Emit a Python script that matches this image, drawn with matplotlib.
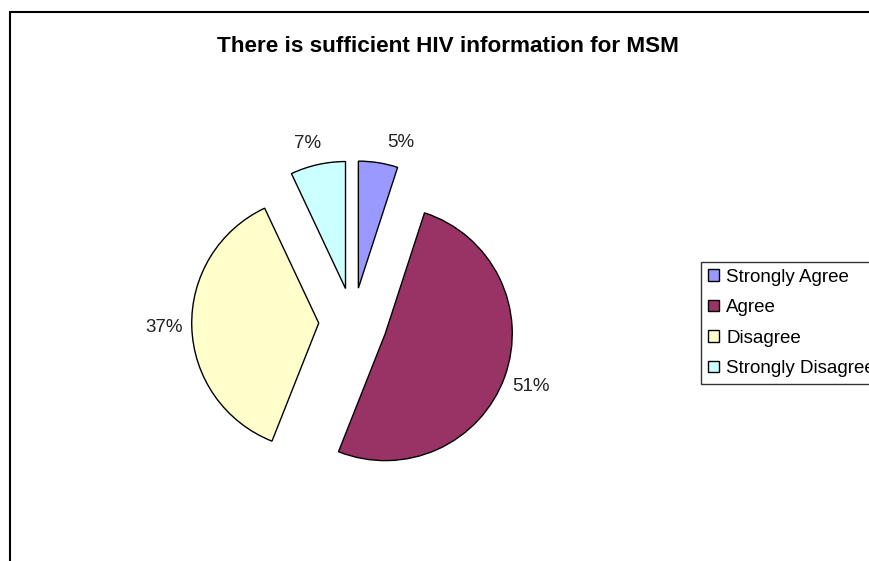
import matplotlib.pyplot as plt
from matplotlib.patches import Rectangle

plt.rcParams['font.family'] = ['Liberation Sans', 'DejaVu Sans']

title = "There is sufficient HIV information for MSM"
categories = ["Strongly Agree", "Agree", "Disagree", "Strongly Disagree"]
values = [5, 51, 37, 7]
colors = ["#9999FF", "#993366", "#FFFFCC", "#CCFFFF"]

fig = plt.figure(figsize=(8.7, 5.61), dpi=100)

# chart frame (Excel-like border, runs off right and bottom)
fig.patches.append(Rectangle((10 / 870, -0.1), 1.0, 1 - 12 / 561 + 0.1,
                             transform=fig.transFigure, fill=False,
                             edgecolor="black", linewidth=1.5))

ax = fig.add_axes([(353 - 190.5) / 870, (561 - 322 - 190.5) / 561,
                   381 / 870, 381 / 561])
wedges, texts, autotexts = ax.pie(
    values, colors=colors, startangle=90, counterclock=False,
    explode=[0.27] * len(values), autopct='%1.0f%%', pctdistance=1.22,
    wedgeprops=dict(edgecolor="black", linewidth=1.0),
    textprops=dict(fontsize=13.5, color="#222222"))
ax.set_xlim(-1.5, 1.5)
ax.set_ylim(-1.5, 1.5)
ax.set_aspect("equal")

# Excel puts the two small top labels a little lower
x0, y0 = autotexts[0].get_position()
autotexts[0].set_position((x0 + 0.14, y0 - 0.06))
x3, y3 = autotexts[3].get_position()
autotexts[3].set_position((x3 - 0.03, y3 - 0.05))

fig.text(448 / 870, 1 - 46 / 561, title, ha="center", va="center",
         fontsize=16.2, fontweight="bold")

leg = fig.legend(wedges, categories, loc="upper left",
                 bbox_to_anchor=(701 / 870, 1 - 262 / 561),
                 fontsize=13.5, frameon=True, fancybox=False,
                 handlelength=0.6, handleheight=0.6, handletextpad=0.4,
                 labelspacing=0.72, borderpad=0.35, borderaxespad=0)
leg.get_frame().set_edgecolor("black")
leg.get_frame().set_linewidth(1.0)

fig.savefig("out.png", dpi=100)
